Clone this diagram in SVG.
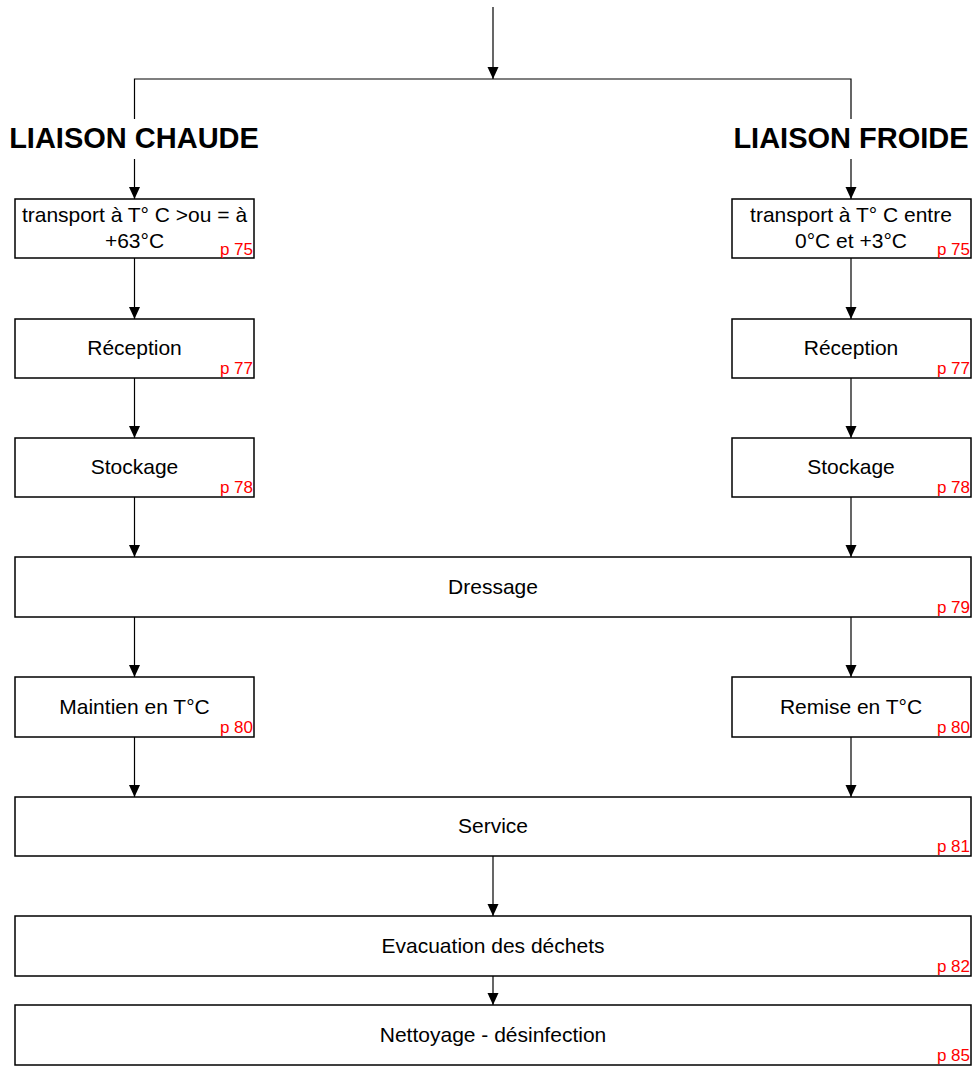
<svg xmlns="http://www.w3.org/2000/svg" width="975" height="1066" viewBox="0 0 975 1066">
  <style>
    .box { fill: #ffffff; stroke: #000000; stroke-width: 1.5; }
    .lbl { font-family: "Liberation Sans", Arial, sans-serif; font-size: 21px; fill: #000000; text-anchor: middle; }
    .pg { font-family: "Liberation Sans", Arial, sans-serif; font-size: 17px; fill: #ff0000; text-anchor: end; }
    .head { font-family: "Liberation Sans", Arial, sans-serif; font-size: 29px; font-weight: bold; fill: #000000; text-anchor: middle; }
    .wire { fill: none; stroke: #000000; stroke-width: 1.2; }
    .arrow { fill: none; stroke: #000000; stroke-width: 1.2; marker-end: url(#tip); }
  </style>
  <defs>
    <marker id="tip" viewBox="0 0 12 12" refX="12" refY="6" markerWidth="12" markerHeight="12" markerUnits="userSpaceOnUse" orient="auto">
      <path d="M0,0.5 L12,6 L0,11.5 z" fill="#000000"/>
    </marker>
  </defs>
  <rect width="975" height="1066" fill="#ffffff"/>

  <g id="connectors">
    <line class="arrow" x1="493" y1="7" x2="493" y2="79"/>
    <polyline class="wire" points="134.5,119 134.5,79 851,79 851,119"/>
    <line class="arrow" x1="134.5" y1="159" x2="134.5" y2="199"/>
    <line class="arrow" x1="851" y1="159" x2="851" y2="199"/>
    <line class="arrow" x1="134.5" y1="258" x2="134.5" y2="319"/>
    <line class="arrow" x1="851" y1="258" x2="851" y2="319"/>
    <line class="arrow" x1="134.5" y1="378" x2="134.5" y2="438"/>
    <line class="arrow" x1="851" y1="378" x2="851" y2="438"/>
    <line class="arrow" x1="134.5" y1="497" x2="134.5" y2="557"/>
    <line class="arrow" x1="851" y1="497" x2="851" y2="557"/>
    <line class="arrow" x1="134.5" y1="617" x2="134.5" y2="677"/>
    <line class="arrow" x1="851" y1="617" x2="851" y2="677"/>
    <line class="arrow" x1="134.5" y1="737" x2="134.5" y2="797"/>
    <line class="arrow" x1="851" y1="737" x2="851" y2="797"/>
    <line class="arrow" x1="493" y1="856" x2="493" y2="916"/>
    <line class="arrow" x1="493" y1="976" x2="493" y2="1005"/>
  </g>

  <g id="head-chaude"><text class="head" x="134" y="148">LIAISON CHAUDE</text></g>
  <g id="head-froide"><text class="head" x="851" y="148">LIAISON FROIDE</text></g>

  <g id="transport-chaud">
    <rect class="box" x="15" y="199" width="239" height="59"/>
    <text class="lbl" x="134.5" y="222">transport à T° C &gt;ou = à</text>
    <text class="lbl" x="134.5" y="248">+63°C</text>
    <text class="pg" x="253" y="255">p 75</text>
  </g>
  <g id="transport-froid">
    <rect class="box" x="732" y="199" width="239" height="59"/>
    <text class="lbl" x="851" y="222">transport à T° C entre</text>
    <text class="lbl" x="851" y="248">0°C et +3°C</text>
    <text class="pg" x="970" y="255">p 75</text>
  </g>

  <g id="reception-chaud">
    <rect class="box" x="15" y="319" width="239" height="59"/>
    <text class="lbl" x="134.5" y="355">Réception</text>
    <text class="pg" x="253" y="374">p 77</text>
  </g>
  <g id="reception-froid">
    <rect class="box" x="732" y="319" width="239" height="59"/>
    <text class="lbl" x="851" y="355">Réception</text>
    <text class="pg" x="970" y="374">p 77</text>
  </g>

  <g id="stockage-chaud">
    <rect class="box" x="15" y="438" width="239" height="59"/>
    <text class="lbl" x="134.5" y="474">Stockage</text>
    <text class="pg" x="253" y="493">p 78</text>
  </g>
  <g id="stockage-froid">
    <rect class="box" x="732" y="438" width="239" height="59"/>
    <text class="lbl" x="851" y="474">Stockage</text>
    <text class="pg" x="970" y="493">p 78</text>
  </g>

  <g id="dressage">
    <rect class="box" x="15" y="557" width="956" height="60"/>
    <text class="lbl" x="493" y="594">Dressage</text>
    <text class="pg" x="970" y="613">p 79</text>
  </g>

  <g id="maintien">
    <rect class="box" x="15" y="677" width="239" height="60"/>
    <text class="lbl" x="134.5" y="714">Maintien en T°C</text>
    <text class="pg" x="253" y="733">p 80</text>
  </g>
  <g id="remise">
    <rect class="box" x="732" y="677" width="239" height="60"/>
    <text class="lbl" x="851" y="714">Remise en T°C</text>
    <text class="pg" x="970" y="733">p 80</text>
  </g>

  <g id="service">
    <rect class="box" x="15" y="797" width="956" height="59"/>
    <text class="lbl" x="493" y="833">Service</text>
    <text class="pg" x="970" y="852">p 81</text>
  </g>

  <g id="evacuation">
    <rect class="box" x="15" y="916" width="956" height="60"/>
    <text class="lbl" x="493" y="953">Evacuation des déchets</text>
    <text class="pg" x="970" y="972">p 82</text>
  </g>

  <g id="nettoyage">
    <rect class="box" x="15" y="1005" width="956" height="60"/>
    <text class="lbl" x="493" y="1042">Nettoyage - désinfection</text>
    <text class="pg" x="970" y="1061">p 85</text>
  </g>
</svg>
